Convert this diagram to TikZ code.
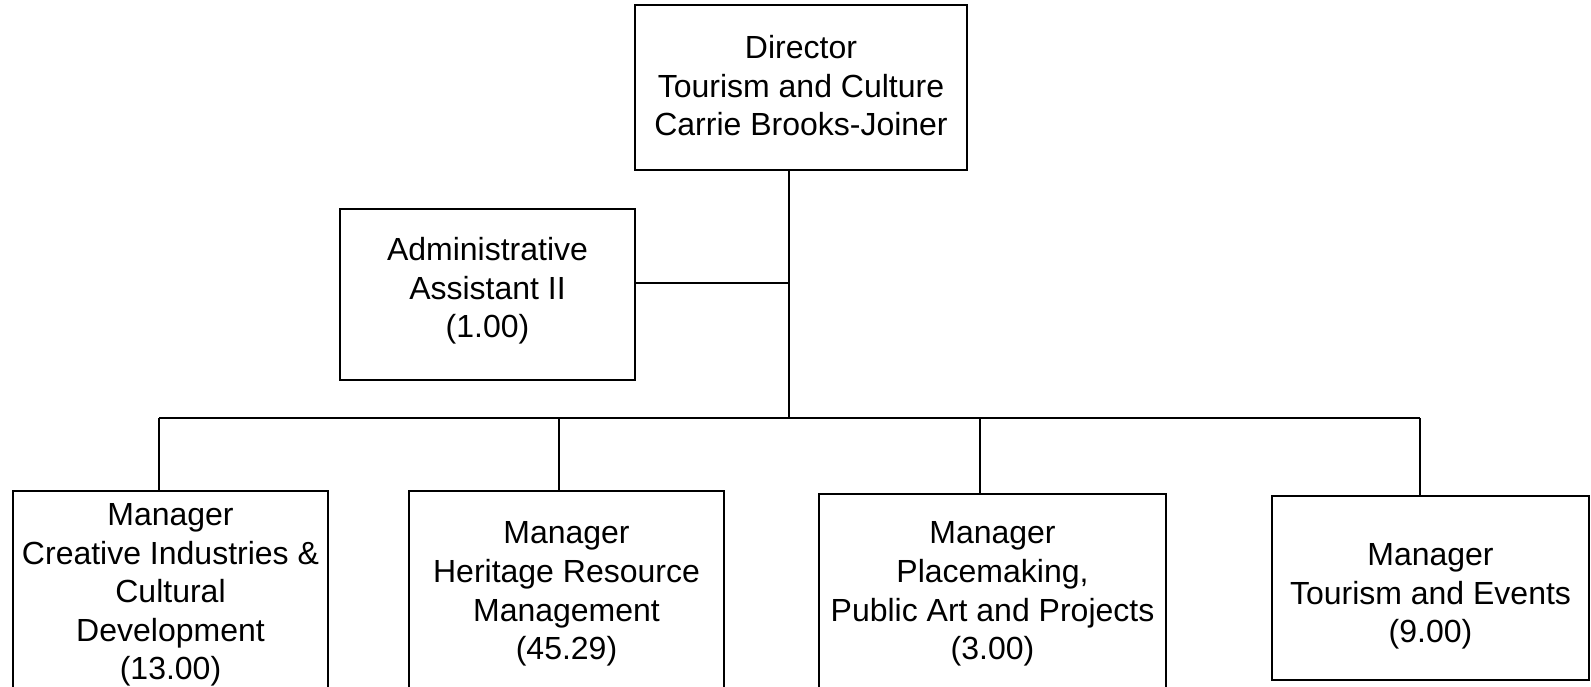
\documentclass[tikz,border=0pt]{standalone}
\usepackage{fontspec}
\setmainfont{Liberation Sans}
\usetikzlibrary{positioning}

\tikzset{
  orgbox/.style={draw, line width=2pt, rectangle, align=center, inner sep=0pt,
    font=\fontsize{32}{38.6}\selectfont},
  orgline/.style={line width=2pt}
}

\begin{document}
\begin{tikzpicture}[x=1pt, y=-1pt]
    \useasboundingbox (0,0) rectangle (1591,686);
    % boxes
    \node[orgbox, minimum width=332pt, minimum height=165pt, text depth=4pt] (dir) at (801,87.5)
      {Director\\Tourism and Culture\\Carrie Brooks-Joiner};
    \node[orgbox, minimum width=295pt, minimum height=171pt, text depth=13.5pt] (admin) at (487.5,294.5)
      {Administrative\\Assistant II\\(1.00)};
    \node[orgbox, minimum width=315pt, minimum height=208pt] (creative) at (170.5,595)
      {Manager\\Creative Industries \&\\Cultural\\Development\\(13.00)};
    \node[orgbox, minimum width=315pt, minimum height=206pt] (heritage) at (566.5,594)
      {Manager\\Heritage Resource\\Management\\(45.29)};
    \node[orgbox, minimum width=347pt, minimum height=200pt] (placemaking) at (992.5,594)
      {Manager\\Placemaking,\\Public Art and Projects\\(3.00)};
    \node[orgbox, minimum width=317pt, minimum height=184pt, text height=116pt] (events) at (1430.5,588)
      {Manager\\Tourism and Events\\(9.00)};
    % connectors
    \coordinate (hub) at (789,418);
    \coordinate (adminjoin) at (789,283);
    \draw[orgline] (dir.south -| hub) -- (hub);
    \draw[orgline] (adminjoin) -- (adminjoin -| admin.east);
    \coordinate (drop1) at (159,418);
    \coordinate (drop2) at (559,418);
    \coordinate (drop3) at (980,418);
    \coordinate (drop4) at (1420,418);
    \draw[orgline] (drop1) -- (drop4);
    \foreach \d/\m in {drop1/creative, drop2/heritage, drop3/placemaking, drop4/events}{
      \draw[orgline] (\d) -- (\d |- \m.north);
    }
  \end{tikzpicture}
\end{document}
